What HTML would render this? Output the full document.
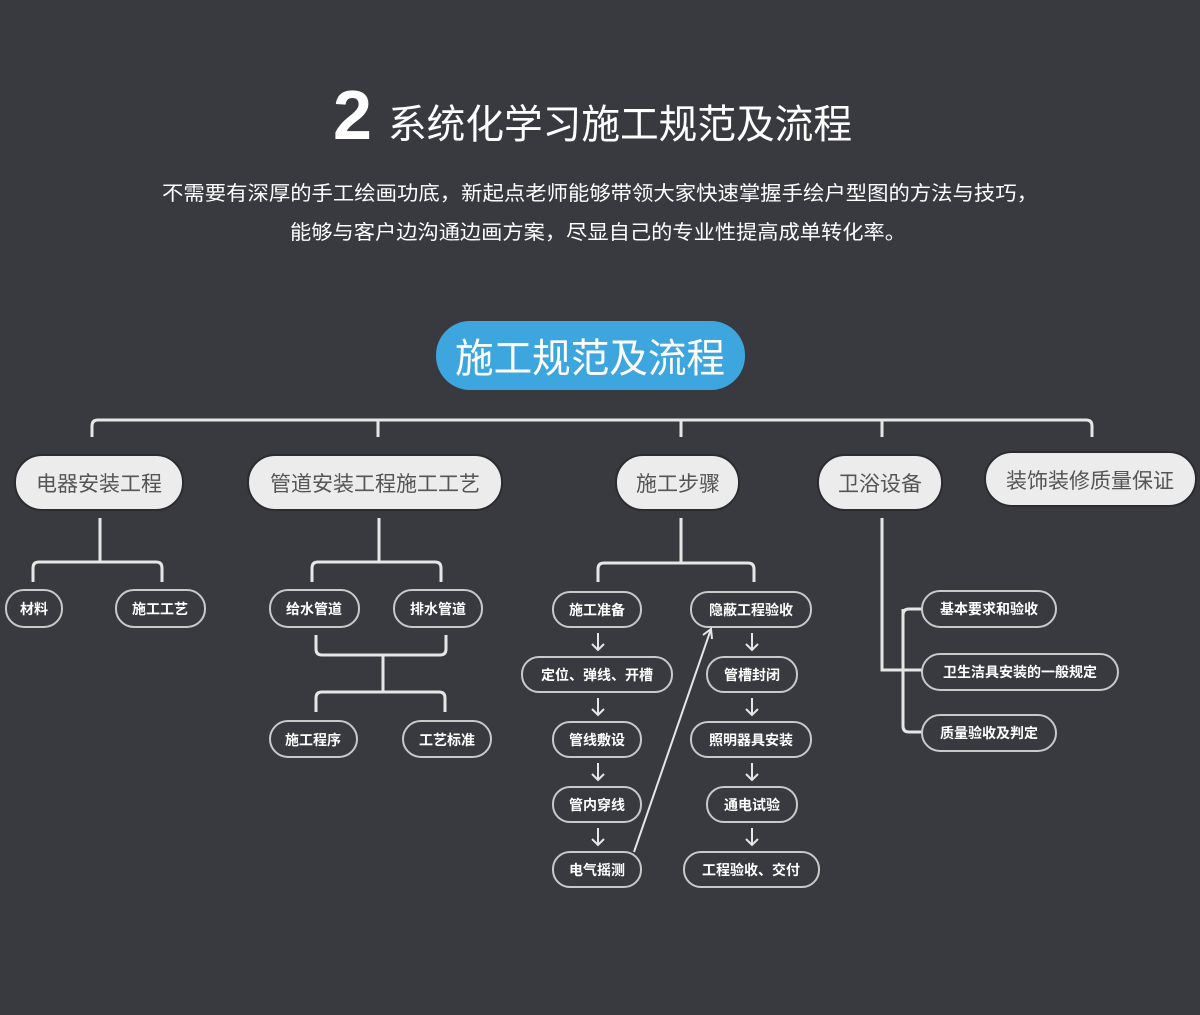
<!DOCTYPE html>
<html><head><meta charset="utf-8"><style>
html,body{margin:0;padding:0;background:#383a3f;}
svg{display:block;}
text{font-family:"Liberation Sans","Noto Sans CJK SC",sans-serif;}
.l1 rect{fill:#ececec;stroke:#2b2c30;stroke-width:2;}
.l1 text{fill:#555;font-size:21px;}
.s rect{fill:#383a3f;stroke:#c9c9c9;stroke-width:2;}
.s text{fill:#fff;font-size:14px;font-weight:bold;}
.ln{fill:none;stroke:#e6e6e6;stroke-width:3;}
.ar{fill:none;stroke:#e6e6e6;stroke-width:2;}
</style></head><body>
<svg width="1200" height="1015" viewBox="0 0 1200 1015">
<text x="333" y="139" fill="#fff" font-size="70" font-weight="bold">2</text>
<text x="388" y="138" fill="#fff" font-size="40" textLength="464" lengthAdjust="spacingAndGlyphs">系统化学习施工规范及流程</text>
<text x="600" y="200" fill="#fff" font-size="20" text-anchor="middle" textLength="876" lengthAdjust="spacingAndGlyphs">不需要有深厚的手工绘画功底，新起点老师能够带领大家快速掌握手绘户型图的方法与技巧，</text>
<text x="598" y="239" fill="#fff" font-size="20" text-anchor="middle" textLength="616" lengthAdjust="spacingAndGlyphs">能够与客户边沟通边画方案，尽显自己的专业性提高成单转化率。</text>

<rect x="436" y="321" width="309" height="69" rx="34" fill="#3ea6de"/>
<text x="590" y="372" fill="#fff" font-size="40" text-anchor="middle" textLength="270" lengthAdjust="spacingAndGlyphs">施工规范及流程</text>

<path class="ln" d="M92 437V426q0-6 6-6H1086q6 0 6 6v11M378 420v17M681 420v17M882 420v17"/>

<g class="l1">
<rect x="15" y="455" width="168" height="55" rx="27"/><text x="99" y="491" text-anchor="middle">电器安装工程</text>
<rect x="248" y="455" width="254" height="55" rx="27"/><text x="375" y="491" text-anchor="middle">管道安装工程施工工艺</text>
<rect x="616" y="455" width="123" height="55" rx="27"/><text x="678" y="491" text-anchor="middle">施工步骤</text>
<rect x="818" y="455" width="124" height="55" rx="27"/><text x="880" y="491" text-anchor="middle">卫浴设备</text>
<rect x="985" y="452" width="211" height="54" rx="27"/><text x="1090" y="488" text-anchor="middle">装饰装修质量保证</text>
</g>

<path class="ln" d="M100 518v44M33 582v-14q0-6 6-6H156q6 0 6 6v14"/>
<path class="ln" d="M379 518v44M312 582v-14q0-6 6-6H435q6 0 6 6v14"/>
<path class="ln" d="M316 635v14q0 6 6 6H440q6 0 6-6v-14M383 655v37M316 712v-14q0-6 6-6H439q6 0 6 6v14"/>
<path class="ln" d="M681 518v45M598 582v-13q0-6 6-6H748q6 0 6 6v13"/>
<path class="ln" d="M882 518v152h40M903 609q0-0 0 0v117q0 6 6 6h13M922 609h-13q-6 0-6 6"/>

<g class="s">
<rect x="6" y="590" width="56" height="37" rx="18"/><text x="34" y="614" text-anchor="middle">材料</text>
<rect x="116" y="590" width="89" height="37" rx="18"/><text x="160" y="614" text-anchor="middle">施工工艺</text>
<rect x="270" y="590" width="89" height="37" rx="18"/><text x="314" y="614" text-anchor="middle">给水管道</text>
<rect x="394" y="590" width="88" height="37" rx="18"/><text x="438" y="614" text-anchor="middle">排水管道</text>
<rect x="270" y="721" width="87" height="36" rx="18"/><text x="313" y="745" text-anchor="middle">施工程序</text>
<rect x="403" y="721" width="88" height="36" rx="18"/><text x="447" y="745" text-anchor="middle">工艺标准</text>

<rect x="553" y="592" width="88" height="35" rx="17"/><text x="597" y="615" text-anchor="middle">施工准备</text>
<rect x="522" y="657" width="150" height="35" rx="17"/><text x="597" y="680" text-anchor="middle">定位、弹线、开槽</text>
<rect x="553" y="722" width="88" height="35" rx="17"/><text x="597" y="745" text-anchor="middle">管线敷设</text>
<rect x="553" y="787" width="88" height="35" rx="17"/><text x="597" y="810" text-anchor="middle">管内穿线</text>
<rect x="553" y="852" width="88" height="35" rx="17"/><text x="597" y="875" text-anchor="middle">电气摇测</text>

<rect x="691" y="592" width="120" height="35" rx="17"/><text x="751" y="615" text-anchor="middle">隐蔽工程验收</text>
<rect x="707" y="657" width="90" height="35" rx="17"/><text x="752" y="680" text-anchor="middle">管槽封闭</text>
<rect x="691" y="722" width="120" height="35" rx="17"/><text x="751" y="745" text-anchor="middle">照明器具安装</text>
<rect x="707" y="787" width="90" height="35" rx="17"/><text x="752" y="810" text-anchor="middle">通电试验</text>
<rect x="684" y="852" width="135" height="35" rx="17"/><text x="751" y="875" text-anchor="middle">工程验收、交付</text>

<rect x="922" y="591" width="134" height="36" rx="18"/><text x="989" y="614" text-anchor="middle">基本要求和验收</text>
<rect x="922" y="654" width="196" height="36" rx="18"/><text x="1020" y="677" text-anchor="middle">卫生洁具安装的一般规定</text>
<rect x="922" y="715" width="134" height="36" rx="18"/><text x="989" y="738" text-anchor="middle">质量验收及判定</text>
</g>

<g class="ar">
<path d="M598 633v17M592 644l6 6 6-6"/>
<path d="M598 698v17M592 709l6 6 6-6"/>
<path d="M598 763v17M592 774l6 6 6-6"/>
<path d="M598 828v17M592 839l6 6 6-6"/>
<path d="M752 633v17M746 644l6 6 6-6"/>
<path d="M752 698v17M746 709l6 6 6-6"/>
<path d="M752 763v17M746 774l6 6 6-6"/>
<path d="M752 828v17M746 839l6 6 6-6"/>
<path d="M634 852L711 629M703 635l8-6 1 10"/>
</g>
</svg>
</body></html>
